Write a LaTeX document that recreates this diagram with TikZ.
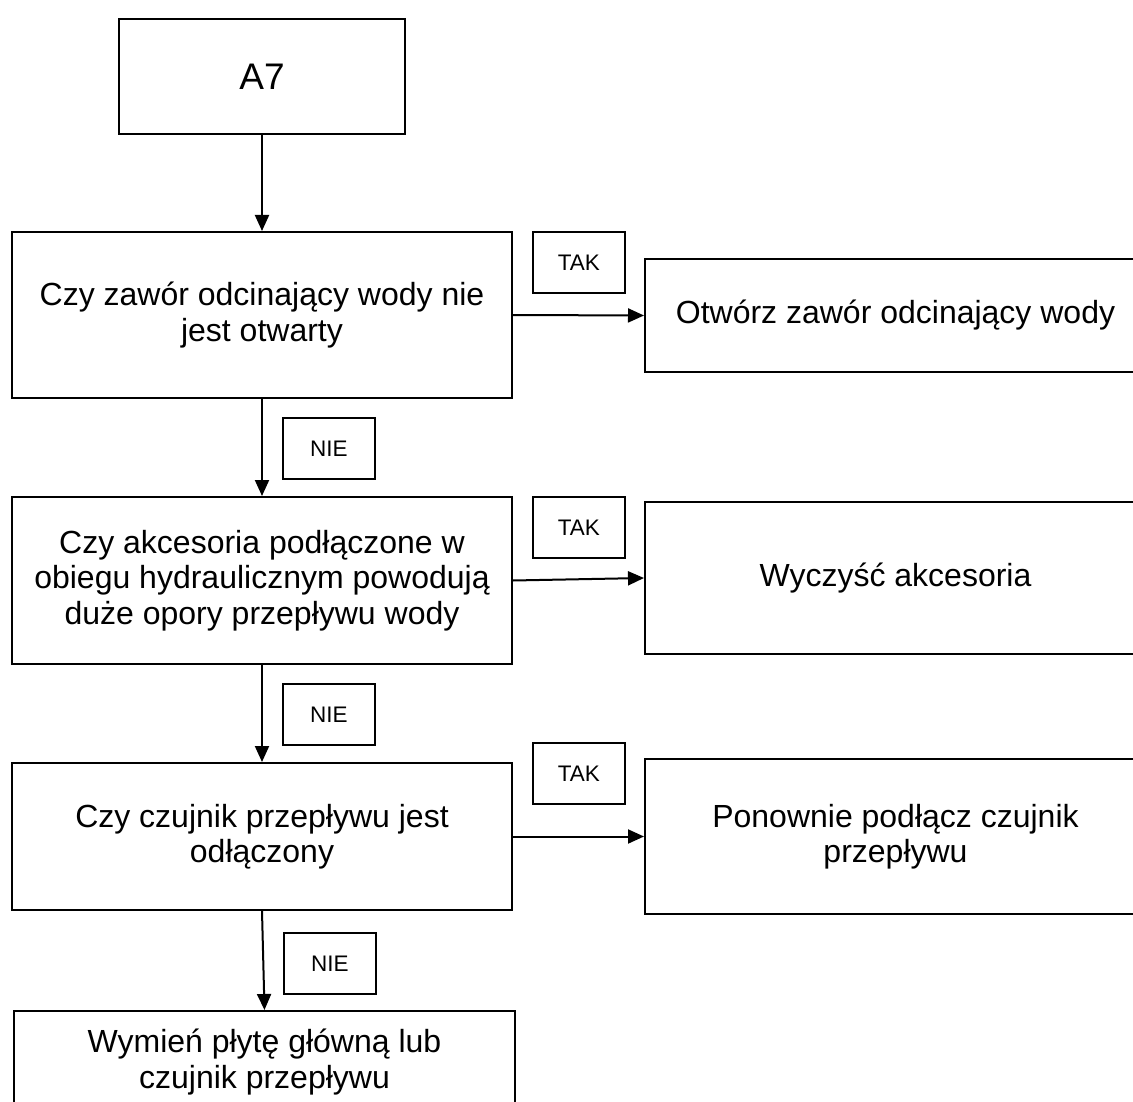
\documentclass[tikz,border=0pt]{standalone}
\usepackage{fontspec}
\setmainfont{Liberation Sans}
\usepackage{tikz}
\usetikzlibrary{arrows.meta}

\tikzset{
  box/.style={draw, line width=2pt, align=center, inner sep=0pt,
    anchor=north west, font=\fontsize{32}{35.5}\selectfont},
  lbl/.style={draw, line width=1.7pt, inner sep=0pt, anchor=north west,
    minimum width=92pt, minimum height=61pt, font=\fontsize{22.5}{26}\selectfont},
  arr/.style={line width=2pt, -{Triangle[length=16pt,width=14pt]}}
}

\begin{document}
\begin{tikzpicture}[x=1pt,y=-1pt]
\useasboundingbox[fill=white] (0,0) rectangle (1133,1102);

\node[box, minimum width=286pt, minimum height=115pt,
  font=\fontsize{37}{40}\selectfont] (start) at (118,18) {A7};

\node[box, minimum width=500pt, minimum height=166pt] (q1) at (11,231)
  {Czy zawór odcinający wody nie\\jest otwarty};
\node[box, minimum width=500pt, minimum height=167pt] (q2) at (11,496)
  {Czy akcesoria podłączone w\\obiegu hydraulicznym powodują\\duże opory przepływu wody};
\node[box, minimum width=500pt, minimum height=147pt] (q3) at (11,762)
  {Czy czujnik przepływu jest\\odłączony};
\node[box, minimum width=501pt, minimum height=102pt] (q4) at (13,1010)
  {Wymień płytę główną lub\\czujnik przepływu};

\node[box, minimum width=501pt, minimum height=113pt] (r1) at (644,258)
  {Otwórz zawór odcinający wody};
\node[box, minimum width=501pt, minimum height=152pt] (r2) at (644,501)
  {Wyczyść akcesoria};
\node[box, minimum width=501pt, minimum height=155pt] (r3) at (644,758)
  {Ponownie podłącz czujnik\\przepływu};

\node[lbl] (tak1) at (532,231) {TAK};
\node[lbl] (tak2) at (532,496) {TAK};
\node[lbl] (tak3) at (532,742) {TAK};
\node[lbl] (nie1) at (282,417) {NIE};
\node[lbl] (nie2) at (282,683) {NIE};
\node[lbl] (nie3) at (283,932) {NIE};

\draw[arr] (start.south) -- (q1.north);
\draw[arr] (q1.south) -- (q2.north);
\draw[arr] (q2.south) -- (q3.north);
\draw[arr] (q3.south) -- (q4.north);
\draw[arr] (q1.east) -- (r1.west);
\draw[arr] (q2.east) -- (r2.west);
\draw[arr] (q3.east) -- (r3.west);
\end{tikzpicture}
\end{document}
